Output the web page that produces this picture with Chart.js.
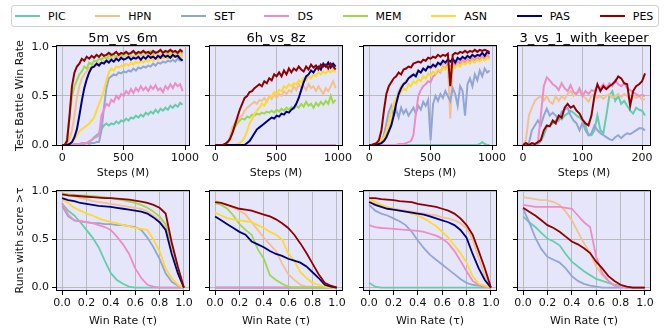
<!DOCTYPE html>
<html>
<head>
<meta charset="utf-8">
<script src="https://cdn.jsdelivr.net/npm/chart.js@4.4.1/dist/chart.umd.min.js"></script>
<style>
  body { margin: 0; width: 665px; height: 331px; background: #fff; position: relative; overflow: hidden; font-family: "DejaVu Sans", sans-serif; }
  canvas { position: absolute; }
  .ttl { position: absolute; width: 134px; text-align: center; font-size: 13px; line-height: 16px; color: #000; }
  #legend { position: absolute; left: 11px; top: 5px; width: 643px; height: 20px; padding-left: 3px; border: 1px solid #d0d0d0; border-radius: 3px; display: flex; align-items: center; gap: 29.7px; }
  .item { display: flex; align-items: center; font-size: 11px; color: #000; }
  .ln { display: inline-block; width: 25px; height: 2px; margin-right: 8px; }
</style>
</head>
<body>
<div id="legend"></div>
<script>
// ---- data ----
const names = ['PIC', 'HPN', 'SET', 'DS', 'MEM', 'ASN', 'PAS', 'PES'];
const colors = { PIC: '#66cdaa', HPN: '#f2c18f', SET: '#92a6d4', DS: '#ee8cc6', MEM: '#9fd84b', ASN: '#ffd92f', PAS: '#000080', PES: '#900000' };

const steps = [0,20,40,60,80,100,120,140,160,180,200,220,240,260,280,300,320,340,360,380,400,420,440,460,480,500,520,540,560,580,600,620,640,660,680,700,720,740,760,780,800,820,840,860,880,900,920,940,960,980];
const steps4 = [0,5,10,15,20,25,30,35,40,45,50,55,60,65,70,75,80,85,90,95,100,105,110,115,120,125,130,135,140,145,150,155,160,165,170,175,180,185,190,195,200,205];
const taus = [0,0.05,0.1,0.15,0.2,0.25,0.3,0.35,0.4,0.45,0.5,0.55,0.6,0.65,0.7,0.75,0.8,0.85,0.9,0.95,1];

const stepTicks = [0, 500, 1000];
const stepTicks4 = [0, 100, 200];
const tauTicks = [0, 0.2, 0.4, 0.6, 0.8, 1.0];
const rateTicks = [0, 0.5, 1.0];

// 5m_vs_6m, test win rate
const m5PIC = [0,0,0,0,0,0,0,0.01,0.01,0.02, 0.02,0.03,0.05,0.08,0.1,0.12,0.16,0.2,0.22,0.2, 0.22,0.21,0.24,0.22,0.25,0.24,0.27,0.25,0.28,0.27, 0.3,0.28,0.31,0.29,0.33,0.31,0.34,0.32,0.36,0.33, 0.37,0.35,0.38,0.36,0.4,0.38,0.41,0.39,0.43,0.41];
const m5HPN = [0,0,0.02,0.06,0.15,0.3,0.48,0.6,0.68,0.72, 0.75,0.79,0.78,0.82,0.81,0.84,0.83,0.86,0.85,0.88, 0.87,0.89,0.88,0.9,0.88,0.9,0.91,0.89,0.91,0.9, 0.92,0.9,0.92,0.91,0.93,0.91,0.92,0.9,0.93,0.91, 0.92,0.94,0.91,0.93,0.92,0.94,0.92,0.93,0.91,0.92];
const m5SET = [0,0,0,0,0,0.01,0.01,0.01,0.02,0.01, 0.02,0.01,0.02,0.02,0.03,0.03,0.15,0.38,0.58,0.68, 0.7,0.72,0.71,0.74,0.73,0.75,0.74,0.76,0.75,0.78, 0.76,0.79,0.78,0.8,0.79,0.81,0.8,0.83,0.81,0.84, 0.83,0.85,0.84,0.86,0.85,0.87,0.85,0.88,0.86,0.88];
const m5DS  = [0,0,0,0,0,0,0.01,0.01,0.01,0.02, 0.02,0.04,0.05,0.07,0.08,0.1,0.3,0.36,0.42,0.4, 0.46,0.44,0.5,0.47,0.52,0.5,0.55,0.52,0.57,0.53, 0.58,0.55,0.6,0.56,0.59,0.55,0.6,0.57,0.61,0.56, 0.58,0.54,0.6,0.57,0.62,0.58,0.63,0.6,0.62,0.55];
const m5MEM = [0,0,0.06,0.28,0.5,0.6,0.66,0.72,0.75,0.8, 0.78,0.84,0.82,0.86,0.85,0.88,0.87,0.9,0.88,0.91, 0.9,0.92,0.9,0.93,0.91,0.92,0.94,0.92,0.93,0.95, 0.92,0.94,0.93,0.95,0.93,0.94,0.96,0.93,0.95,0.94, 0.96,0.94,0.95,0.93,0.96,0.94,0.95,0.93,0.95,0.93];
const m5ASN = [0,0,0,0.01,0.03,0.06,0.1,0.14,0.16,0.18, 0.2,0.22,0.25,0.28,0.35,0.42,0.48,0.56,0.66,0.74, 0.78,0.76,0.8,0.79,0.81,0.8,0.83,0.81,0.84,0.82, 0.85,0.83,0.86,0.84,0.87,0.85,0.88,0.86,0.88,0.87, 0.89,0.88,0.9,0.88,0.91,0.89,0.92,0.9,0.91,0.89];
const m5PAS = [0,0,0,0.01,0.03,0.08,0.16,0.3,0.45,0.58, 0.67,0.74,0.79,0.8,0.83,0.81,0.84,0.83,0.86,0.84, 0.87,0.85,0.88,0.86,0.89,0.87,0.88,0.9,0.87,0.89, 0.88,0.9,0.87,0.9,0.88,0.91,0.89,0.9,0.88,0.91, 0.89,0.92,0.9,0.91,0.89,0.92,0.9,0.91,0.88,0.86];
const m5PES = [0,0,0.04,0.3,0.6,0.74,0.8,0.83,0.88,0.86, 0.9,0.88,0.91,0.89,0.92,0.9,0.93,0.91,0.92,0.94, 0.92,0.93,0.95,0.92,0.94,0.93,0.95,0.93,0.94,0.96, 0.93,0.95,0.94,0.96,0.94,0.95,0.93,0.96,0.94,0.95, 0.97,0.94,0.96,0.95,0.97,0.95,0.96,0.94,0.97,0.95];

// 6h_vs_8z, test win rate
const z6Flat = [0,0,0,0,0,0,0,0,0,0, 0,0,0,0,0,0,0,0,0,0, 0,0,0,0,0,0,0,0,0,0, 0,0,0,0,0,0,0,0,0,0, 0,0,0,0,0,0,0,0,0,0];
const z6HPN = [0,0,0,0,0,0.01,0.08,0.18,0.22,0.25, 0.28,0.3,0.35,0.38,0.4,0.42,0.44,0.42,0.46,0.45, 0.48,0.44,0.5,0.47,0.52,0.48,0.52,0.5,0.55,0.52, 0.56,0.54,0.6,0.56,0.62,0.58,0.6,0.56,0.62,0.58, 0.6,0.55,0.6,0.56,0.52,0.58,0.55,0.6,0.65,0.58];
const z6MEM = [0,0,0,0,0,0.02,0.06,0.12,0.18,0.22, 0.25,0.27,0.26,0.29,0.28,0.31,0.3,0.32,0.31,0.33, 0.32,0.34,0.33,0.35,0.33,0.36,0.34,0.37,0.35,0.38, 0.36,0.39,0.37,0.4,0.38,0.42,0.39,0.44,0.4,0.42, 0.38,0.43,0.4,0.44,0.41,0.45,0.42,0.5,0.43,0.46];
const z6ASN = [0,0,0,0,0,0,0,0,0,0.01, 0.02,0.04,0.08,0.14,0.22,0.26,0.32,0.35,0.38,0.42, 0.4,0.45,0.48,0.5,0.54,0.52,0.56,0.55,0.6,0.58, 0.62,0.6,0.63,0.62,0.66,0.64,0.68,0.66,0.7,0.68, 0.72,0.7,0.74,0.72,0.75,0.73,0.76,0.74,0.77,0.74];
const z6PAS = [0,0,0,0,0,0,0,0,0,0, 0,0,0,0.02,0.04,0.08,0.12,0.16,0.18,0.2, 0.22,0.24,0.26,0.28,0.27,0.3,0.29,0.32,0.31,0.34, 0.33,0.36,0.38,0.42,0.48,0.56,0.64,0.7,0.72,0.76, 0.74,0.78,0.8,0.77,0.83,0.8,0.84,0.79,0.83,0.8];
const z6PES = [0,0,0,0,0.01,0.03,0.06,0.12,0.2,0.28, 0.36,0.42,0.48,0.5,0.54,0.55,0.58,0.6,0.62,0.6, 0.65,0.63,0.68,0.66,0.72,0.7,0.74,0.7,0.76,0.72, 0.78,0.74,0.78,0.76,0.8,0.77,0.75,0.8,0.77,0.82, 0.79,0.81,0.77,0.82,0.8,0.82,0.78,0.83,0.8,0.77];

// corridor, test win rate
const coPIC = [0,0,0,0,0,0,0,0,0,0, 0,0,0,0,0,0,0,0,0,0, 0,0,0,0,0,0,0,0,0,0, 0,0,0,0,0,0,0,0,0,0, 0,0,0,0,0,0.01,0.03,0.01,0,0];
const coHPN = [0,0,0,0.01,0.02,0.04,0.06,0.1,0.16,0.24, 0.34,0.46,0.55,0.6,0.63,0.65,0.68,0.7,0.72,0.73, 0.75,0.74,0.77,0.76,0.79,0.78,0.8,0.79,0.82,0.81, 0.83,0.82,0.84,0.27,0.84,0.85,0.86,0.85,0.87,0.86, 0.88,0.87,0.89,0.88,0.9,0.89,0.91,0.9,0.92,0.91];
const coSET = [0,0,0,0.01,0.02,0.04,0.1,0.22,0.34,0.4, 0.3,0.36,0.28,0.38,0.32,0.36,0.3,0.34,0.38,0.32, 0.4,0.36,0.44,0.4,0.46,0.05,0.42,0.5,0.45,0.52, 0.48,0.55,0.5,0.45,0.58,0.52,0.4,0.6,0.55,0.3, 0.62,0.68,0.6,0.72,0.66,0.76,0.7,0.78,0.74,0.76];
const coDS  = [0,0,0,0,0,0,0,0,0,0, 0,0,0.01,0.01,0.01,0.02,0.03,0.04,0.1,0.32, 0.5,0.56,0.6,0.62,0.65,0.64,0.7,0.72,0.76,0.74, 0.8,0.78,0.82,0.8,0.83,0.81,0.85,0.83,0.86,0.84, 0.87,0.85,0.88,0.86,0.89,0.87,0.9,0.88,0.91,0.89];
const coASN = [0,0,0.01,0.02,0.03,0.05,0.08,0.14,0.24,0.34, 0.42,0.48,0.5,0.54,0.58,0.56,0.62,0.6,0.65,0.63, 0.67,0.65,0.7,0.68,0.73,0.71,0.75,0.73,0.77,0.75, 0.79,0.77,0.8,0.78,0.81,0.79,0.82,0.8,0.84,0.82, 0.85,0.83,0.86,0.84,0.87,0.85,0.88,0.86,0.89,0.87];
const coPAS = [0,0,0,0,0.01,0.02,0.04,0.08,0.14,0.2, 0.3,0.42,0.52,0.58,0.62,0.64,0.68,0.7,0.72,0.7, 0.76,0.74,0.78,0.76,0.8,0.79,0.82,0.8,0.84,0.82, 0.86,0.84,0.87,0.85,0.88,0.84,0.89,0.87,0.9,0.88, 0.91,0.89,0.92,0.9,0.92,0.91,0.94,0.91,0.95,0.93];
const coPES = [0,0,0.01,0.02,0.05,0.15,0.35,0.52,0.6,0.64, 0.68,0.7,0.74,0.72,0.77,0.78,0.8,0.79,0.83,0.84, 0.85,0.84,0.87,0.86,0.89,0.88,0.9,0.89,0.92,0.9, 0.92,0.91,0.93,0.6,0.92,0.94,0.93,0.95,0.94,0.96, 0.94,0.96,0.95,0.97,0.95,0.97,0.96,0.97,0.96,0.95];

// 3_vs_1_with_keeper, test win rate
const k4PIC = [0,0,0,0,0,0.01,0.04,0.1,0.18,0.2, 0.22,0.25,0.28,0.26,0.3,0.32,0.35,0.33,0.3,0.28, 0.25,0.2,0.1,0.1,0.15,0.3,0.15,0.12,0.3,0.5, 0.55,0.45,0.5,0.42,0.45,0.4,0.35,0.32,0.38,0.36, 0.35,0.3];
const k4HPN = [0,0.05,0.3,0.38,0.45,0.48,0.5,0.45,0.5,0.44, 0.42,0.5,0.45,0.5,0.47,0.52,0.55,0.5,0.53,0.55, 0.5,0.48,0.44,0.5,0.52,0.48,0.5,0.47,0.5,0.52, 0.48,0.5,0.52,0.49,0.52,0.5,0.45,0.5,0.48,0.5, 0.46,0.47];
const k4SET = [0,0,0.02,0.15,0.2,0.25,0.2,0.3,0.37,0.3, 0.33,0.3,0.25,0.34,0.36,0.38,0.3,0.25,0.22,0.15, 0.23,0.15,0.1,0.12,0.2,0.15,0.12,0.1,0.08,0.06, 0.05,0.08,0.1,0.07,0.1,0.12,0.11,0.13,0.15,0.17, 0.17,0.15];
const k4DS  = [0,0,0,0,0,0.02,0.3,0.6,0.69,0.66, 0.62,0.6,0.56,0.63,0.58,0.55,0.61,0.54,0.52,0.58, 0.5,0.55,0.52,0.56,0.55,0.6,0.58,0.62,0.58,0.63, 0.6,0.66,0.62,0.6,0.63,0.58,0.56,0.54,0.52,0.5, 0.51,0.5];
const k4PES = [0,0.02,0,0.02,0.01,0.03,0.05,0.15,0.2,0.19, 0.25,0.22,0.3,0.28,0.38,0.42,0.38,0.4,0.35,0.32, 0.26,0.22,0.2,0.3,0.5,0.62,0.55,0.6,0.57,0.6, 0.62,0.65,0.7,0.68,0.63,0.62,0.4,0.55,0.6,0.62, 0.65,0.73];

// runs with score > tau
const p5PIC = [0.87,0.8,0.75,0.68,0.6,0.52,0.42,0.28,0.15,0.08,0.04,0.01,0,0,0,0,0,0,0,0,0];
const p5HPN = [0.97,0.96,0.95,0.93,0.92,0.9,0.89,0.88,0.87,0.86,0.85,0.84,0.83,0.82,0.79,0.75,0.7,0.62,0.42,0.18,0];
const p5SET = [0.85,0.74,0.7,0.69,0.68,0.67,0.67,0.66,0.66,0.65,0.65,0.64,0.63,0.6,0.52,0.42,0.3,0.15,0.06,0.02,0];
const p5DS  = [0.88,0.76,0.7,0.69,0.68,0.67,0.65,0.63,0.6,0.53,0.45,0.35,0.2,0.1,0.03,0.01,0,0,0,0,0];
const p5MEM = [0.98,0.97,0.965,0.96,0.955,0.95,0.945,0.94,0.93,0.92,0.91,0.895,0.88,0.86,0.83,0.79,0.74,0.66,0.45,0.2,0];
const p5ASN = [0.92,0.88,0.83,0.8,0.77,0.75,0.72,0.7,0.68,0.67,0.65,0.64,0.62,0.61,0.6,0.5,0.38,0.2,0.1,0.03,0];
const p5PAS = [0.93,0.91,0.9,0.88,0.87,0.86,0.85,0.845,0.84,0.83,0.82,0.81,0.8,0.79,0.77,0.73,0.68,0.6,0.35,0.15,0];
const p5PES = [0.97,0.96,0.955,0.95,0.945,0.94,0.935,0.93,0.93,0.925,0.92,0.915,0.905,0.895,0.88,0.86,0.83,0.77,0.47,0.22,0];

const p6Flat = [0,0,0,0,0,0,0,0,0,0,0,0,0,0,0,0,0,0,0,0,0];
const p6HPN = [0.9,0.88,0.86,0.83,0.8,0.76,0.68,0.6,0.52,0.45,0.38,0.25,0.14,0.08,0.03,0.01,0.01,0,0,0,0];
const p6MEM = [0.88,0.86,0.82,0.75,0.66,0.6,0.55,0.4,0.3,0.13,0.08,0.04,0.01,0,0,0,0,0,0,0,0];
const p6ASN = [0.78,0.75,0.72,0.71,0.7,0.69,0.68,0.65,0.62,0.58,0.55,0.5,0.36,0.28,0.16,0.1,0.05,0.03,0.01,0,0];
const p6PAS = [0.74,0.7,0.66,0.62,0.58,0.55,0.48,0.45,0.42,0.38,0.35,0.33,0.3,0.28,0.26,0.22,0.16,0.1,0.03,0.01,0];
const p6PES = [0.89,0.88,0.86,0.84,0.82,0.81,0.8,0.78,0.76,0.74,0.71,0.67,0.62,0.55,0.46,0.36,0.25,0.14,0.05,0.02,0];

const p7PIC = [0.05,0.01,0,0,0,0,0,0,0,0,0,0,0,0,0,0,0,0,0,0,0];
const p7HPN = [0.9,0.87,0.85,0.83,0.82,0.81,0.8,0.79,0.78,0.77,0.76,0.75,0.73,0.72,0.7,0.67,0.62,0.5,0.3,0.12,0];
const p7SET = [0.86,0.8,0.77,0.75,0.72,0.69,0.65,0.58,0.49,0.41,0.34,0.29,0.24,0.19,0.14,0.09,0.05,0.03,0.02,0.01,0];
const p7DS  = [0.65,0.63,0.62,0.615,0.61,0.605,0.6,0.595,0.59,0.58,0.56,0.54,0.51,0.46,0.38,0.28,0.17,0.07,0.03,0.01,0];
const p7ASN = [0.93,0.89,0.86,0.84,0.82,0.8,0.79,0.77,0.75,0.72,0.68,0.64,0.58,0.52,0.44,0.36,0.26,0.12,0.04,0.02,0];
const p7PAS = [0.89,0.86,0.84,0.82,0.81,0.8,0.79,0.78,0.77,0.76,0.74,0.72,0.7,0.68,0.65,0.6,0.52,0.35,0.2,0.08,0];
const p7PES = [0.93,0.93,0.92,0.915,0.91,0.9,0.895,0.89,0.87,0.86,0.85,0.84,0.82,0.8,0.77,0.72,0.65,0.55,0.38,0.2,0];

const p8PIC = [0.74,0.68,0.63,0.57,0.51,0.48,0.44,0.35,0.27,0.22,0.17,0.13,0.09,0.07,0.05,0.03,0.02,0.01,0,0,0];
const p8HPN = [0.94,0.93,0.92,0.91,0.91,0.89,0.86,0.79,0.7,0.58,0.46,0.36,0.22,0.13,0.07,0.02,0.01,0,0,0,0];
const p8SET = [0.82,0.68,0.52,0.4,0.32,0.29,0.26,0.2,0.12,0.07,0.04,0.02,0.01,0,0,0,0,0,0,0,0];
const p8DS  = [0.86,0.85,0.84,0.84,0.84,0.84,0.84,0.83,0.82,0.75,0.68,0.63,0.32,0.15,0.07,0.02,0.01,0,0,0,0];
const p8PES = [0.83,0.79,0.75,0.7,0.65,0.62,0.58,0.53,0.48,0.45,0.41,0.36,0.27,0.2,0.12,0.07,0.03,0.01,0,0,0];

// ---- layout ----
const PLOT_W = 134, PLOT_H = 101;
const colLeft = [56, 209, 363, 517];
const rowTop = [45, 190];

Chart.defaults.font.family = '"DejaVu Sans", sans-serif';
Chart.defaults.color = '#111';

const frame = {
  id: 'frame',
  beforeDraw(chart) {
    const { ctx, chartArea: a } = chart;
    ctx.save();
    ctx.fillStyle = '#e6e6fa';
    ctx.fillRect(a.left, a.top, a.right - a.left, a.bottom - a.top);
    ctx.restore();
  },
  afterDatasetsDraw(chart) {
    const { ctx, chartArea: a } = chart;
    ctx.save();
    ctx.strokeStyle = '#000';
    ctx.lineWidth = 1;
    ctx.strokeRect(a.left + 0.5, a.top + 0.5, a.right - a.left - 1, a.bottom - a.top - 1);
    ctx.restore();
  }
};

function panel(p) {
  const YW = p.col === 0 ? colLeft[0] : 10;
  const PT = 10, PR = 16, XH = p.row === 0 ? 34 : 37;
  const cv = document.createElement('canvas');
  cv.width = YW + PLOT_W + PR;
  cv.height = PT + PLOT_H + XH;
  cv.style.left = (colLeft[p.col] - YW) + 'px';
  cv.style.top = (rowTop[p.row] - PT) + 'px';
  document.body.appendChild(cv);

  if (p.title) {
    const t = document.createElement('div');
    t.className = 'ttl';
    t.textContent = p.title;
    t.style.left = colLeft[p.col] + 'px';
    t.style.top = '30px';
    document.body.appendChild(t);
  }

  const datasets = names.filter(n => p.series[n]).map(n => ({
    label: n,
    data: p.xs.map((x, i) => ({ x: x, y: p.series[n][i] })),
    borderColor: colors[n],
    borderWidth: p.lw,
    pointRadius: 0,
    fill: false,
    tension: 0,
    order: names.length - names.indexOf(n)
  }));

  const grid = { color: '#b0b0b0', lineWidth: 0.8, tickLength: 4, tickColor: '#000', tickWidth: 1 };
  const tickFont = { size: 11 };

  new Chart(cv, {
    type: 'line',
    data: { datasets },
    options: {
      animation: false,
      responsive: false,
      devicePixelRatio: 1,
      layout: { padding: { left: 0, top: PT, right: PR, bottom: 0 } },
      plugins: { legend: { display: false }, tooltip: { enabled: false } },
      scales: {
        x: {
          type: 'linear', min: p.xMin, max: p.xMax,
          afterBuildTicks: s => { s.ticks = p.xTicks.map(v => ({ value: v })); },
          afterFit: s => { s.height = XH; },
          ticks: { font: tickFont, padding: 2, maxRotation: 0, minRotation: 0, autoSkip: false, callback: p.xFmt },
          grid: grid,
          border: { display: false },
          title: { display: true, text: p.xTitle, font: { size: 11 }, color: '#111', padding: { top: 0, bottom: 0 } }
        },
        y: {
          type: 'linear', min: p.yMin, max: p.yMax,
          afterBuildTicks: s => { s.ticks = rateTicks.map(v => ({ value: v })); },
          afterFit: s => { s.width = YW; },
          ticks: { font: tickFont, padding: 3, autoSkip: false, callback: v => p.col === 0 ? v.toFixed(1) : '' },
          grid: grid,
          border: { display: false },
          title: { display: p.col === 0, text: p.yTitle || '', font: { size: 11 }, color: '#111', padding: { top: 13.4, bottom: 0 } }
        }
      }
    },
    plugins: [frame]
  });
}

const stepFmt = v => String(v);
const tauFmt = v => v.toFixed(1);
const topRow = { row: 0, xTitle: 'Steps (M)', yMin: -0.01, yMax: 1.02, lw: 2, yTitle: 'Test Battle Win Rate' };
const botRow = { row: 1, xs: taus, xMin: -0.05, xMax: 1.05, xTicks: tauTicks, xFmt: tauFmt, xTitle: 'Win Rate (τ)', yMin: -0.035, yMax: 1.015, lw: 1.8, yTitle: 'Runs with score >τ' };

panel({ ...topRow, col: 0, title: '5m_vs_6m', xs: steps, xMin: -50, xMax: 1040, xTicks: stepTicks, xFmt: stepFmt,
  series: { PIC: m5PIC, HPN: m5HPN, SET: m5SET, DS: m5DS, MEM: m5MEM, ASN: m5ASN, PAS: m5PAS, PES: m5PES } });
panel({ ...topRow, col: 1, title: '6h_vs_8z', xs: steps, xMin: -50, xMax: 1040, xTicks: stepTicks, xFmt: stepFmt,
  series: { PIC: z6Flat, HPN: z6HPN, SET: z6Flat, DS: z6Flat, MEM: z6MEM, ASN: z6ASN, PAS: z6PAS, PES: z6PES } });
panel({ ...topRow, col: 2, title: 'corridor', xs: steps, xMin: -50, xMax: 1040, xTicks: stepTicks, xFmt: stepFmt,
  series: { PIC: coPIC, HPN: coHPN, SET: coSET, DS: coDS, ASN: coASN, PAS: coPAS, PES: coPES } });
panel({ ...topRow, col: 3, title: '3_vs_1_with_keeper', xs: steps4, xMin: -10, xMax: 215, xTicks: stepTicks4, xFmt: stepFmt,
  series: { PIC: k4PIC, HPN: k4HPN, SET: k4SET, DS: k4DS, PES: k4PES } });

panel({ ...botRow, col: 0, series: { PIC: p5PIC, HPN: p5HPN, SET: p5SET, DS: p5DS, MEM: p5MEM, ASN: p5ASN, PAS: p5PAS, PES: p5PES } });
panel({ ...botRow, col: 1, series: { PIC: p6Flat, HPN: p6HPN, SET: p6Flat, DS: p6Flat, MEM: p6MEM, ASN: p6ASN, PAS: p6PAS, PES: p6PES } });
panel({ ...botRow, col: 2, series: { PIC: p7PIC, HPN: p7HPN, SET: p7SET, DS: p7DS, ASN: p7ASN, PAS: p7PAS, PES: p7PES } });
panel({ ...botRow, col: 3, series: { PIC: p8PIC, HPN: p8HPN, SET: p8SET, DS: p8DS, PES: p8PES } });

// legend
const legend = document.getElementById('legend');
names.forEach(n => {
  const it = document.createElement('div');
  it.className = 'item';
  const ln = document.createElement('span');
  ln.className = 'ln';
  ln.style.background = colors[n];
  it.appendChild(ln);
  it.appendChild(document.createTextNode(n));
  legend.appendChild(it);
});
</script>
</body>
</html>
